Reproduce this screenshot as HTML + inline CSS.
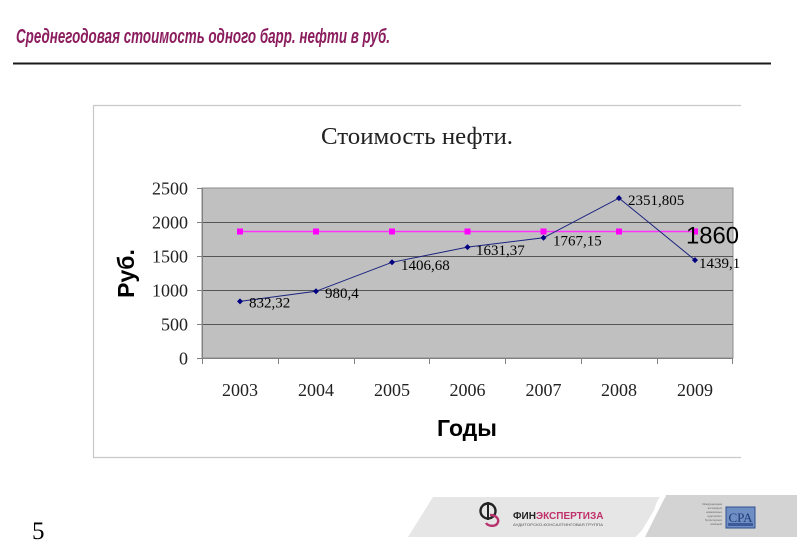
<!DOCTYPE html>
<html>
<head>
<meta charset="utf-8">
<style>
  html, body { margin:0; padding:0; background:#ffffff; }
  body { width:800px; height:555px; overflow:hidden; }
  svg { display:block; }
</style>
</head>
<body>
<svg width="800" height="555" viewBox="0 0 800 555" xmlns="http://www.w3.org/2000/svg">
  <defs>
    <filter id="blur1" x="-5%" y="-200%" width="110%" height="500%">
      <feGaussianBlur stdDeviation="1.5"/>
    </filter>
  </defs>

  <!-- Header -->
  <text x="16" y="43" font-family="'Liberation Sans', 'Noto Sans CJK SC', sans-serif" font-size="20" font-style="italic" font-weight="bold" fill="#8b1d5e" textLength="374" lengthAdjust="spacingAndGlyphs">Среднегодовая стоимость одного барр. нефти в руб.</text>
  <line x1="17" y1="69" x2="776" y2="69" stroke="#d4d4d4" stroke-width="3" filter="url(#blur1)"/>
  <line x1="13" y1="63.5" x2="771" y2="63.5" stroke="#1a1a1a" stroke-width="2"/>

  <!-- Chart frame -->
  <line x1="93" y1="105.5" x2="741" y2="105.5" stroke="#c8c8c8" stroke-width="1.2"/>
  <line x1="93.5" y1="105" x2="93.5" y2="458" stroke="#c8c8c8" stroke-width="1.2"/>
  <line x1="93" y1="457.5" x2="741" y2="457.5" stroke="#c8c8c8" stroke-width="1.2"/>

  <!-- Chart title -->
  <text x="321" y="144" font-family="'Liberation Serif', 'Noto Serif CJK SC', serif" font-size="24" fill="#222" textLength="192" lengthAdjust="spacingAndGlyphs">Стоимость нефти.</text>

  <!-- Plot area -->
  <rect x="202" y="188" width="531" height="170" fill="#c0c0c0" stroke="#8c8c8c" stroke-width="1"/>
  <g stroke="#555" stroke-width="1">
    <line x1="202" y1="222.5" x2="733" y2="222.5"/>
    <line x1="202" y1="256.5" x2="733" y2="256.5"/>
    <line x1="202" y1="290.5" x2="733" y2="290.5"/>
    <line x1="202" y1="324.5" x2="733" y2="324.5"/>
  </g>
  <!-- Axes -->
  <g stroke="#808080" stroke-width="1">
    <line x1="202.5" y1="188" x2="202.5" y2="358"/>
    <line x1="202" y1="358.5" x2="733" y2="358.5"/>
    <line x1="197" y1="188.5" x2="202" y2="188.5"/>
    <line x1="197" y1="222.5" x2="202" y2="222.5"/>
    <line x1="197" y1="256.5" x2="202" y2="256.5"/>
    <line x1="197" y1="290.5" x2="202" y2="290.5"/>
    <line x1="197" y1="324.5" x2="202" y2="324.5"/>
    <line x1="197" y1="358.5" x2="202" y2="358.5"/>
    <line x1="202.5" y1="358" x2="202.5" y2="364"/>
    <line x1="278.5" y1="358" x2="278.5" y2="364"/>
    <line x1="354.5" y1="358" x2="354.5" y2="364"/>
    <line x1="429.5" y1="358" x2="429.5" y2="364"/>
    <line x1="505.5" y1="358" x2="505.5" y2="364"/>
    <line x1="581.5" y1="358" x2="581.5" y2="364"/>
    <line x1="657.5" y1="358" x2="657.5" y2="364"/>
    <line x1="732.5" y1="358" x2="732.5" y2="364"/>
  </g>

  <!-- Y tick labels -->
  <g font-family="'Liberation Serif', serif" font-size="18" fill="#222" text-anchor="end">
    <text x="188" y="194.5">2500</text>
    <text x="188" y="228.5">2000</text>
    <text x="188" y="262.5">1500</text>
    <text x="188" y="296.5">1000</text>
    <text x="188" y="330.5">500</text>
    <text x="188" y="364.5">0</text>
  </g>

  <!-- X tick labels -->
  <g font-family="'Liberation Serif', serif" font-size="18" fill="#222" text-anchor="middle">
    <text x="240" y="396">2003</text>
    <text x="316" y="396">2004</text>
    <text x="392" y="396">2005</text>
    <text x="467.5" y="396">2006</text>
    <text x="543.5" y="396">2007</text>
    <text x="619" y="396">2008</text>
    <text x="695" y="396">2009</text>
  </g>

  <!-- Axis titles -->
  <text x="467" y="436" font-family="'Liberation Sans', 'Noto Sans CJK SC', sans-serif" font-size="23" font-weight="bold" fill="#000" text-anchor="middle">Годы</text>
  <text transform="translate(134,273.5) rotate(-90)" x="0" y="0" font-family="'Liberation Sans', 'Noto Sans CJK SC', sans-serif" font-size="23" font-weight="bold" fill="#000" text-anchor="middle">Руб.</text>

  <!-- Pink series (1860) -->
  <polyline points="240,231.5 316,231.5 392,231.5 467.5,231.5 543.5,231.5 619,231.5 695,231.5" fill="none" stroke="#ff33ff" stroke-width="1.5"/>
  <g fill="#ff00ff">
    <rect x="237" y="228.5" width="6" height="6"/>
    <rect x="313" y="228.5" width="6" height="6"/>
    <rect x="389" y="228.5" width="6" height="6"/>
    <rect x="464.5" y="228.5" width="6" height="6"/>
    <rect x="540.5" y="228.5" width="6" height="6"/>
    <rect x="616" y="228.5" width="6" height="6"/>
    <rect x="692" y="228.5" width="6" height="6"/>
  </g>

  <!-- Blue series -->
  <polyline points="240,301.4 316,291.3 392,262.3 467.5,247.1 543.5,237.8 619,198.1 695,260.1" fill="none" stroke="#1a237e" stroke-width="1"/>
  <g fill="#000080">
    <polygon points="240,298.4 243,301.4 240,304.4 237,301.4"/>
    <polygon points="316,288.3 319,291.3 316,294.3 313,291.3"/>
    <polygon points="392,259.3 395,262.3 392,265.3 389,262.3"/>
    <polygon points="467.5,244.1 470.5,247.1 467.5,250.1 464.5,247.1"/>
    <polygon points="543.5,234.8 546.5,237.8 543.5,240.8 540.5,237.8"/>
    <polygon points="619,195.1 622,198.1 619,201.1 616,198.1"/>
    <polygon points="695,257.1 698,260.1 695,263.1 692,260.1"/>
  </g>

  <!-- Data labels -->
  <g font-family="'Liberation Serif', serif" font-size="15" fill="#000">
    <text x="249" y="307.5">832,32</text>
    <text x="325" y="298">980,4</text>
    <text x="401" y="270">1406,68</text>
    <text x="476" y="255">1631,37</text>
    <text x="553" y="245.5">1767,15</text>
    <text x="628" y="205">2351,805</text>
    <text x="699" y="268">1439,1</text>
  </g>
  <text x="686" y="243.5" font-family="'Liberation Sans', sans-serif" font-size="24" fill="#000" textLength="53" lengthAdjust="spacingAndGlyphs">1860</text>

  <!-- Footer page number -->
  <text x="32" y="539" font-family="'Liberation Serif', serif" font-size="25" fill="#000">5</text>

  <!-- Logo band -->
  <polygon points="433,497 662,497 638,537 408,537" fill="#e6e6e6"/>
  <polygon points="666,495 797,495 797,537 645,537 C658,528 662,510 666,495 Z" fill="#d3d3d3"/>
  <path d="M661,496 C652,505 656,520 645,528 C640,532 637,535 635,538 L641,538 C650,530 656,512 666,496 Z" fill="#ffffff"/>

  <!-- FinExpertiza logo -->
  <g>
    <circle cx="488" cy="511" r="7.5" fill="none" stroke="#222" stroke-width="2.4"/>
    <line x1="488" y1="502" x2="488" y2="520" stroke="#222" stroke-width="2"/>
    <path d="M490,515 C497,515 500,520 497,524 C494,527 488,526 486,523" fill="none" stroke="#b8326e" stroke-width="2.4"/>
    <text x="513" y="519" font-family="'Liberation Sans', sans-serif" font-size="10" font-weight="bold" fill="#222">ФИН<tspan fill="#c0306a">ЭКСПЕРТИЗА</tspan></text>
    <text x="513" y="526" font-family="'Liberation Sans', sans-serif" font-size="3.5" fill="#555" textLength="90" lengthAdjust="spacingAndGlyphs">АУДИТОРСКО-КОНСАЛТИНГОВАЯ ГРУППА</text>
  </g>

  <!-- CPA logo -->
  <g font-family="'Liberation Sans', sans-serif" font-size="2.6" fill="#666" text-anchor="end">
    <text x="722" y="505">Международная</text>
    <text x="722" y="509">ассоциация</text>
    <text x="722" y="513">независимых</text>
    <text x="722" y="517">аудиторов и</text>
    <text x="722" y="521">бухгалтерских</text>
    <text x="722" y="525">компаний</text>
  </g>
  <rect x="726" y="507" width="29" height="21" fill="#6f8fc4" stroke="#2f4f8f" stroke-width="1"/>
  <text x="740.5" y="522" font-family="'Liberation Serif', serif" font-size="13" fill="#1e3a78" text-anchor="middle">CPA</text>
  <rect x="728" y="523" width="25" height="3" fill="#3a5a9a"/>
</svg>
</body>
</html>
